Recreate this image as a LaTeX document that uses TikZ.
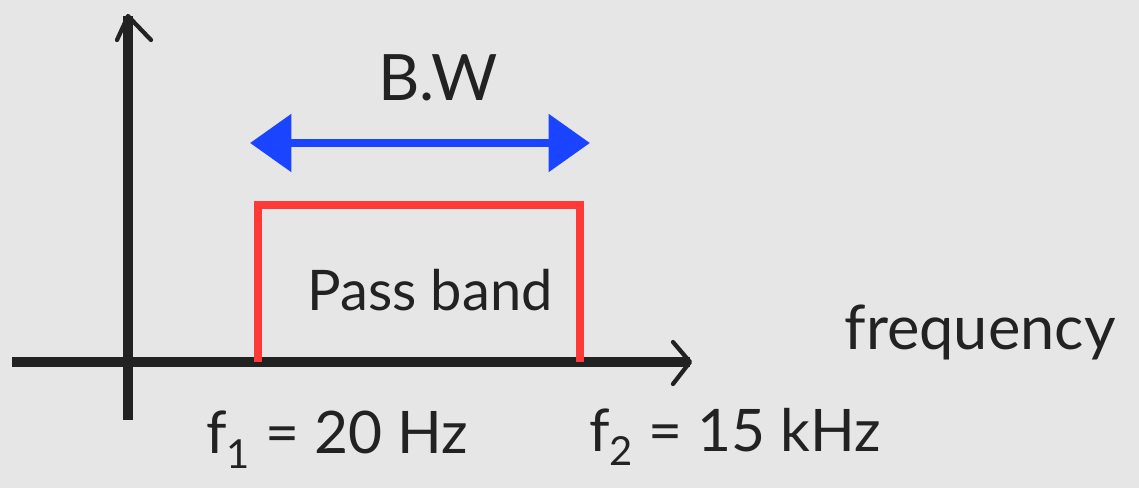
\documentclass[tikz,border=0pt]{standalone}
\usepackage{fontspec}
\setmainfont{Lato}
\usetikzlibrary{arrows.meta}
\definecolor{bg}{HTML}{E6E6E6}
\definecolor{ink}{HTML}{222222}
\definecolor{bandred}{HTML}{FF3838}
\definecolor{bwblue}{HTML}{1A44FF}
\newcommand{\sbs}[1]{\raisebox{-0.25em}{\fontsize{30}{34}\selectfont #1}}
\tikzset{
  axis/.style={draw=ink, line width=7pt},
  chevron/.style={draw=ink, line width=3.2pt, line cap=round, line join=round},
  band/.style={draw=bandred, line width=6pt},
  bwarrow/.style={draw=bwblue, line width=6.5pt, {Triangle[length=31pt,width=42pt]}-{Triangle[length=31pt,width=42pt]}},
  lbl/.style={text=ink, inner sep=0pt}
}
\begin{document}
\begin{tikzpicture}[x=0.75pt,y=-0.75pt]
\fill[bg] (0,0) rectangle (1139,488);
\useasboundingbox (0,0) rectangle (1139,488);
% axes
\coordinate (ytop) at (128,16);
\coordinate (ybot) at (128,420);
\coordinate (xl) at (12,362);
\coordinate (xr) at (690,362);
\draw[axis] (ybot) -- (ytop);
\draw[axis] (xl) -- (xr);
\draw[chevron] (117,40) -- (ytop) -- (151,40);
\draw[chevron] (673,342) -- (xr) -- (673,384);
% pass band
\coordinate (b1) at (258,362);
\coordinate (b2) at (258,205);
\coordinate (b3) at (580,205);
\coordinate (b4) at (580,362);
\draw[band] (b1) -- (b2) -- (b3) -- (b4);
% bandwidth arrow
\coordinate (bwl) at (250,143);
\coordinate (bwr) at (590,143);
\draw[bwarrow] (bwl) -- (bwr);
% labels
\node[lbl, font=\fontsize{48}{52}\selectfont] (bw) at (438,78) {B.W};
\node[lbl, font=\fontsize{42}{48}\selectfont] (pb) at (430,290) {Pass band};
\node[lbl, font=\fontsize{44}{50}\selectfont] (f1) at (337,440) {f\sbs{1} = 20 Hz};
\node[lbl, font=\fontsize{44}{50}\selectfont] (f2) at (735,437) {f\sbs{2} = 15 kHz};
\node[lbl, font=\fontsize{46}{52}\selectfont] (fr) at (980,332) {frequency};
\end{tikzpicture}
\end{document}
